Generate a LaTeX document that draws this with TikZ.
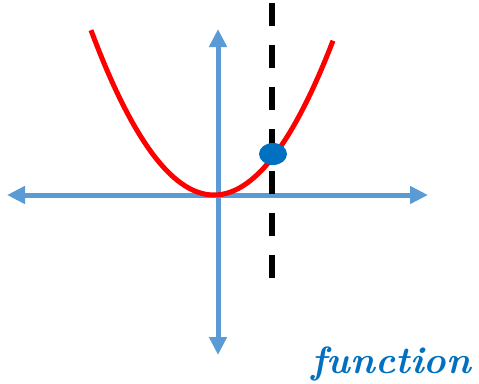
\documentclass[tikz,border=0pt]{standalone}
\usepackage{tikz}
\usetikzlibrary{arrows.meta,shapes.geometric}
\definecolor{axisB}{RGB}{91,155,213}
\definecolor{curveR}{RGB}{255,0,0}
\definecolor{dotB}{RGB}{0,112,192}

\begin{document}
\begin{tikzpicture}[x=1pt, y=-1pt,
  axis/.style={draw=axisB, line width=5pt, {Triangle[length=18pt,width=17pt]}-{Triangle[length=18pt,width=17pt]}},
  curve/.style={draw=curveR, line width=5pt},
  vline/.style={draw=black, line width=6pt, dash pattern=on 23pt off 19pt},
  label/.style={font=\fontsize{38}{40}\selectfont\bfseries\itshape, text=dotB, inner sep=0pt}]
  \useasboundingbox (0,0) rectangle (479,383);
  % axes
  \coordinate (xl) at (7,195);
  \coordinate (xr) at (428,195);
  \coordinate (yt) at (218,29);
  \coordinate (yb) at (218,355);
  \draw[axis] (xl) -- (xr);
  \draw[axis] (yt) -- (yb);
  % parabola
  \draw[curve] plot[domain=91:333, samples=60] (\x, {195-0.0109*(\x-214)*(\x-214)});
  % vertical test line
  \coordinate (vt) at (272,3);
  \coordinate (vb) at (272,278);
  \draw[vline] (vt) -- (vb);
  % intersection point
  \node[ellipse, fill=dotB, minimum width=28pt, minimum height=22pt, inner sep=0pt] (pt) at (273,154) {};
  % caption
  \node[label, anchor=base east] (cap) at (471,373) {function};
\end{tikzpicture}
\end{document}
